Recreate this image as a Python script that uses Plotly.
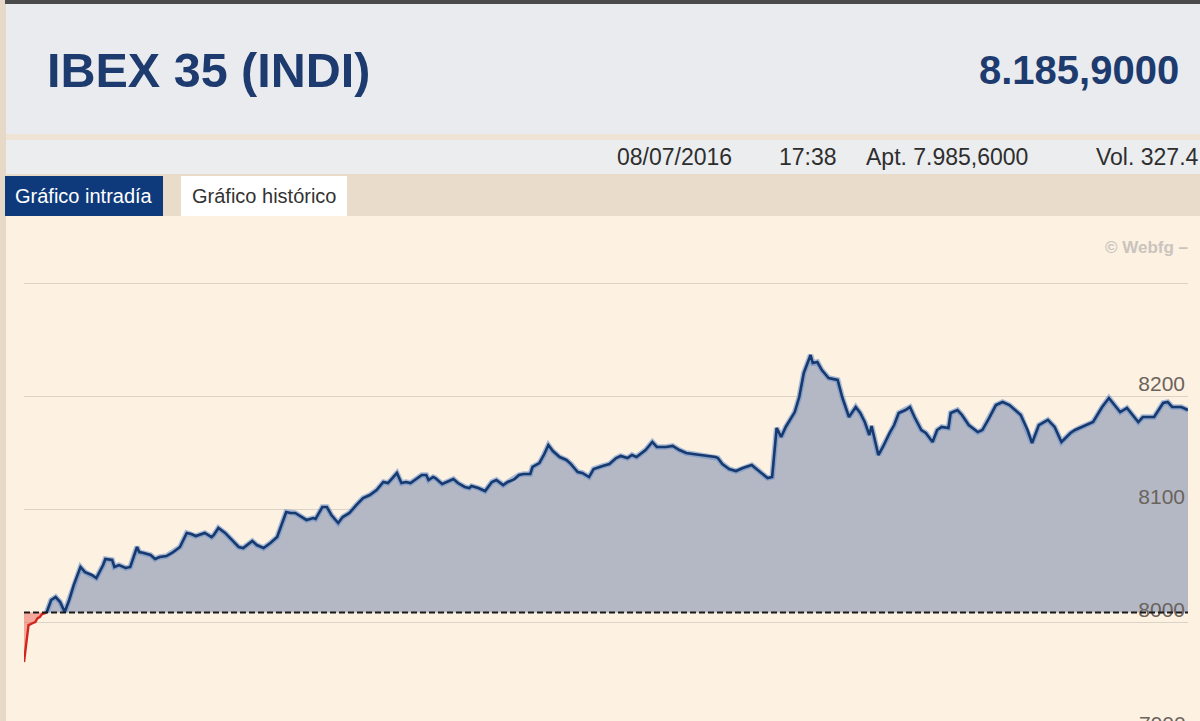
import plotly.graph_objects as go

W, H = 1200, 721

# ---------------- texts ----------------
TITLE = "IBEX 35 (INDI)"
LAST_PRICE = "8.185,9000"
INFO_DATE = "08/07/2016"
INFO_TIME = "17:38"
INFO_OPEN = "Apt. 7.985,6000"
INFO_VOL = "Vol. 327.4"
TAB_ACTIVE = "Gráfico intradía"
TAB_OTHER = "Gráfico histórico"
WATERMARK = "© Webfg –"

# ---------------- data ----------------
PREV_CLOSE = 8008.4

# minutes since 09:00 / index level while below previous close
red_minutes = [0, 1, 2, 4, 5, 6, 7, 8, 10]
red_values = [7964.6, 7979.6, 7997.3, 7999.1, 8000.0, 8003.5, 8004.4, 8007.1, 8008.4]

# minutes since 09:00 / index level while above previous close
blue_minutes = [10, 12, 14, 16, 18, 20, 22, 25, 27, 30, 32, 35, 36, 39, 40, 42, 45, 47, 50, 51,
                53, 56, 58, 60, 63, 66, 69, 72, 74, 76, 80, 83, 84, 86, 89, 92, 95, 97, 101, 103,
                106, 109, 112, 116, 118, 120, 123, 125, 128, 129, 132, 134, 136, 139, 141, 144, 147, 150, 153, 156,
                159, 161, 163, 165, 167, 169, 171, 174, 176, 178, 179, 181, 182, 185, 187, 190, 192, 195, 197, 198,
                201, 204, 207, 209, 212, 214, 217, 219, 221, 224, 225, 228, 230, 232, 234, 237, 240, 242, 245, 247,
                250, 252, 256, 259, 262, 264, 267, 269, 271, 275, 278, 280, 284, 287, 290, 293, 296, 300, 306, 307,
                309, 312, 315, 318, 322, 323, 327, 329, 331, 333, 335, 337, 341, 343, 345, 348, 349, 351, 353, 356,
                360, 362, 365, 368, 370, 372, 374, 375, 378, 380, 383, 385, 387, 390, 392, 394, 397, 399, 402, 404,
                406, 409, 410, 413, 415, 418, 422, 424, 427, 430, 433, 436, 441, 444, 446, 449, 453, 456, 459, 463,
                465, 467, 470, 473, 477, 480, 485, 488, 493, 495, 500, 504, 506, 508, 512, 515]
blue_values = [8008.4, 8019.5, 8022.1, 8017.7, 8008.8, 8019.5, 8032.7, 8048.7, 8044.2, 8041.6,
               8038.9, 8050.4, 8055.8, 8054.9, 8048.7, 8050.4, 8047.8, 8048.7, 8066.4, 8061.9,
               8061.1, 8059.3, 8055.8, 8057.5, 8058.4, 8061.9, 8066.4, 8078.8, 8077.9, 8076.1,
               8078.8, 8075.2, 8077.0, 8083.2, 8078.8, 8072.6, 8066.4, 8065.5, 8071.7, 8068.1,
               8065.5, 8069.9, 8075.2, 8097.3, 8096.5, 8096.5, 8092.9, 8090.3, 8092.0, 8091.2,
               8101.8, 8101.8, 8094.7, 8087.6, 8092.9, 8096.5, 8103.5, 8109.7, 8112.4, 8116.8,
               8123.9, 8123.0, 8127.4, 8131.9, 8123.0, 8123.9, 8123.0, 8127.4, 8130.1, 8130.1,
               8125.7, 8128.3, 8127.4, 8122.1, 8123.9, 8126.5, 8123.0, 8119.5, 8118.6, 8120.4,
               8118.6, 8115.9, 8123.9, 8125.7, 8121.2, 8123.9, 8126.5, 8130.1, 8131.0, 8131.0,
               8137.2, 8140.7, 8147.8, 8156.6, 8151.3, 8146.0, 8143.4, 8139.8, 8132.7, 8131.9,
               8128.3, 8135.4, 8138.1, 8139.8, 8145.1, 8146.9, 8145.1, 8147.8, 8146.0, 8152.2,
               8159.3, 8154.9, 8154.9, 8155.8, 8152.2, 8149.6, 8148.7, 8147.8, 8146.0, 8145.1,
               8139.8, 8135.4, 8133.6, 8136.3, 8138.9, 8137.2, 8131.0, 8127.4, 8128.3, 8171.7,
               8163.7, 8172.6, 8185.8, 8199.1, 8220.4, 8236.3, 8229.2, 8230.1, 8223.0, 8215.9,
               8214.2, 8199.1, 8181.4, 8190.3, 8185.0, 8177.0, 8165.5, 8173.5, 8147.8, 8154.9,
               8167.3, 8174.3, 8185.0, 8187.6, 8190.3, 8181.4, 8169.9, 8167.3, 8159.3, 8169.9,
               8172.6, 8171.7, 8185.0, 8187.6, 8183.2, 8174.3, 8168.1, 8169.9, 8180.5, 8192.0,
               8194.7, 8192.0, 8183.2, 8169.9, 8158.4, 8174.3, 8178.8, 8172.6, 8159.3, 8167.3,
               8169.9, 8171.7, 8174.3, 8177.0, 8190.3, 8198.2, 8185.8, 8189.4, 8177.0, 8181.4,
               8181.4, 8193.8, 8194.7, 8190.3, 8190.3, 8187.6]

GRID_VALUES = [7900, 8000, 8100, 8200, 8300]
GRID_LABELS = ["7900", "8000", "8100", "8200", ""]
Y_RANGE = [7912.4, 8359.3]
X_RANGE = [0, 515]

# ---------------- styles ----------------
FONT = "Liberation Sans, Arial, sans-serif"
NAVY = "#1D3B6F"
CREAM = "#FDF1E2"
LABEL_GREY = "#6B635C"


def px(x):
    return x / W


def py(y):
    return 1 - y / H


PLOT_TOP = 216
Y_DOMAIN = [0, py(PLOT_TOP)]

fig = go.Figure()

# red part (below previous close)
fig.add_trace(go.Scatter(x=red_minutes, y=[PREV_CLOSE] * len(red_minutes), mode="lines",
                         line=dict(width=0, color="rgba(0,0,0,0)"), hoverinfo="skip", showlegend=False))
fig.add_trace(go.Scatter(x=red_minutes, y=red_values, mode="lines", fill="tonexty",
                         fillcolor="rgba(236,96,86,0.5)",
                         line=dict(color="#D0261E", width=2.4), showlegend=False))

# blue part (above previous close)
fig.add_trace(go.Scatter(x=blue_minutes, y=[PREV_CLOSE] * len(blue_minutes), mode="lines",
                         line=dict(width=0, color="rgba(0,0,0,0)"), hoverinfo="skip", showlegend=False))
fig.add_trace(go.Scatter(x=blue_minutes, y=blue_values, mode="lines", fill="tonexty",
                         fillcolor="#B4B8C5", line=dict(width=0, color="rgba(0,0,0,0)"),
                         showlegend=False))
fig.add_trace(go.Scatter(x=blue_minutes, y=blue_values, mode="lines",
                         line=dict(color="rgba(100,140,200,0.55)", width=5.5), hoverinfo="skip",
                         showlegend=False))
fig.add_trace(go.Scatter(x=blue_minutes, y=blue_values, mode="lines",
                         line=dict(color="#16396F", width=2.6), showlegend=False))

shapes = []


def rect(x0, y0, x1, y1, color, layer="below"):
    shapes.append(dict(type="rect", xref="paper", yref="paper", x0=px(x0), x1=px(x1),
                       y0=py(y1), y1=py(y0), fillcolor=color, line=dict(width=0), layer=layer))


rect(0, 0, 6, H, "#E6D9C7")
rect(5, 0, W, 4, "#4B4B4B")
rect(6, 4, W, 134, "#E9EBEE")
rect(6, 134, W, 140, "#EFE3D5")
rect(6, 140, W, 174, "#ECEDEF")
rect(6, 174, W, PLOT_TOP, "#EADCCA")
rect(5, 176, 163, PLOT_TOP, "#0E3A7C")
rect(181, 176, 347, PLOT_TOP, "#FFFFFF")

# previous close dashed reference line
shapes.append(dict(type="line", xref="x domain", yref="y", x0=0, x1=1, y0=PREV_CLOSE, y1=PREV_CLOSE,
                   line=dict(color="#1A1A1A", width=2, dash="6px,3px"), layer="above"))

annotations = []


def text(x, y, s, size, color, anchor="left", bold=False):
    annotations.append(dict(x=px(x), y=py(y), xref="paper", yref="paper", text=f"<b>{s}</b>" if bold else s,
                            showarrow=False, xanchor=anchor, yanchor="middle",
                            font=dict(family=FONT, size=size, color=color)))


text(45, 70, TITLE, 48.5, NAVY, bold=True)
text(1181, 70, LAST_PRICE, 40, NAVY, anchor="right", bold=True)
text(615, 157, INFO_DATE, 23, "#2E2E2E")
text(777, 157, INFO_TIME, 23, "#2E2E2E")
text(864, 157, INFO_OPEN, 23, "#2E2E2E")
text(1094, 157, INFO_VOL, 23, "#2E2E2E")
text(84, 196, TAB_ACTIVE, 20, "#FFFFFF", anchor="center")
text(264, 196, TAB_OTHER, 20, "#333333", anchor="center")
text(1190, 247, WATERMARK, 17, "#C9C4BD", anchor="right", bold=True)

# 7900 label lies below the visible window; place it through the y scale fraction
frac_7900 = (GRID_VALUES[0] - Y_RANGE[0]) / (Y_RANGE[1] - Y_RANGE[0]) * Y_DOMAIN[1]
annotations.append(dict(x=px(1188), y=frac_7900, xref="paper", yref="paper", text=GRID_LABELS[0],
                        showarrow=False, xanchor="right", yanchor="middle", yshift=12,
                        font=dict(family=FONT, size=21, color=LABEL_GREY)))

fig.update_layout(
    width=W, height=H,
    margin=dict(l=0, r=0, t=0, b=0),
    paper_bgcolor=CREAM, plot_bgcolor=CREAM,
    showlegend=False,
    shapes=shapes, annotations=annotations,
    xaxis=dict(domain=[px(24), px(1188)], range=X_RANGE, visible=False, showgrid=False),
    yaxis=dict(domain=Y_DOMAIN, range=Y_RANGE, side="right", tickvals=GRID_VALUES, ticktext=GRID_LABELS,
               ticks="", ticklabelposition="inside", ticklabelshift=-12, ticklabelstandoff=0,
               showgrid=True, gridcolor="#DBD3C8", gridwidth=1, zeroline=False, showline=False,
               tickfont=dict(family=FONT, size=21, color=LABEL_GREY)),
)

fig.write_html("out.html", config={"displayModeBar": False},
               post_script="document.body.style.margin='0';document.body.style.overflow='hidden';")
